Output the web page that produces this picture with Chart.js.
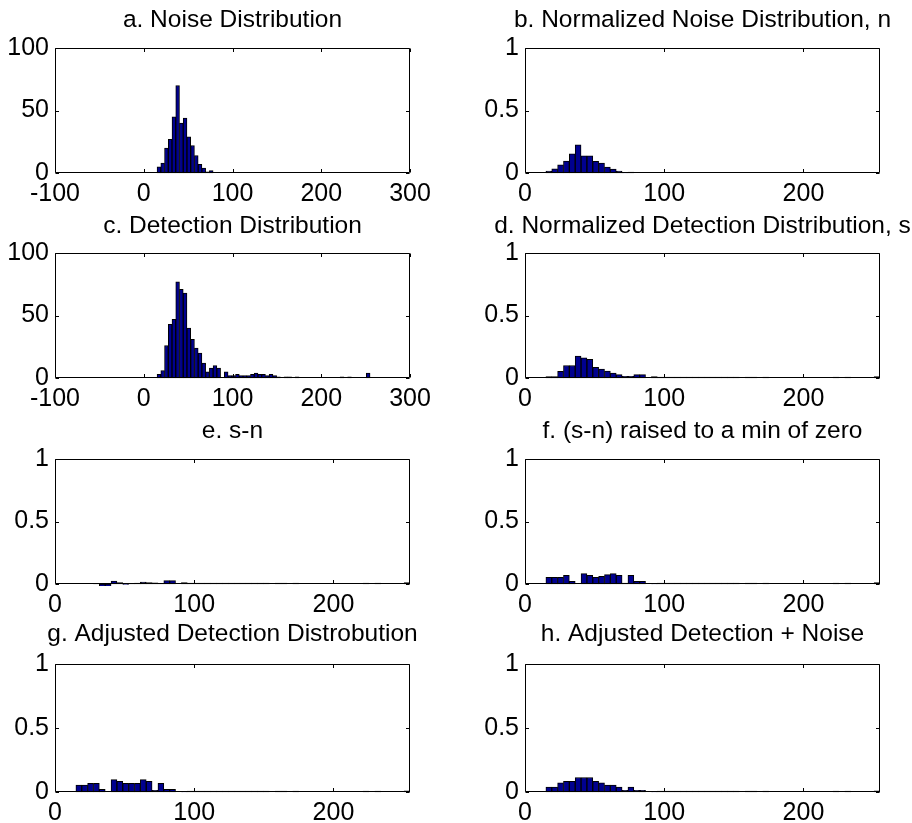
<!DOCTYPE html>
<html>
<head>
<meta charset="utf-8">
<title>Noise and detection distributions</title>
<script src="https://cdn.jsdelivr.net/npm/chart.js@4.4.1/dist/chart.umd.min.js"></script>
<style>
  html, body { margin: 0; padding: 0; background: #fff; width: 912px; height: 823px; overflow: hidden; }
  canvas.panel { position: absolute; }
</style>
</head>
<body>
<script>
// Histogram bin centres (grey level), 57 bins of equal width from 15 to 255
const binCenters = [
  17.11, 21.32, 25.53, 29.74, 33.95, 38.16, 42.37, 46.58, 50.79, 55.00,
  59.21, 63.42, 67.63, 71.84, 76.05, 80.26, 84.47, 88.68, 92.89, 97.11,
  101.32, 105.53, 109.74, 113.95, 118.16, 122.37, 126.58, 130.79, 135.00, 139.21,
  143.42, 147.63, 151.84, 156.05, 160.26, 164.47, 168.68, 172.89, 177.11, 181.32,
  185.53, 189.74, 193.95, 198.16, 202.37, 206.58, 210.79, 215.00, 219.21, 223.42,
  227.63, 231.84, 236.05, 240.26, 244.47, 248.68, 252.89
];

// a. raw noise histogram (counts)
const noiseCounts = [
  5, 8, 20, 27, 45, 70, 40, 44, 29, 22,
  14, 7, 4, 1, 2, 0, 0, 0, 0, 0,
  0, 0, 0, 0, 0, 0, 0, 0, 0, 0,
  0, 0, 0, 0, 0, 0, 0, 0, 0, 0,
  0, 0, 0, 0, 0, 0, 0, 0, 0, 0,
  0, 0, 0, 0, 0, 0, 0
];

// b. normalized noise distribution, n
const noiseNorm = [
  0.016, 0.034, 0.066, 0.095, 0.154, 0.225, 0.138, 0.138, 0.093, 0.080,
  0.048, 0.032, 0.016, 0.003, 0.007, 0, 0, 0, 0, 0,
  0, 0, 0, 0, 0, 0, 0, 0, 0, 0,
  0, 0, 0, 0, 0, 0, 0, 0, 0, 0,
  0, 0, 0, 0, 0, 0, 0, 0, 0, 0,
  0, 0, 0, 0, 0, 0, 0
];

// c. raw detection histogram (counts)
const detectCounts = [
  3, 6, 26, 43, 47, 77, 71, 68, 40, 31,
  24, 20, 12, 5, 8, 10, 8, 0, 5, 2,
  2, 3, 2, 2, 2, 3, 4, 3, 3, 2,
  3, 2, 1, 0, 1, 1, 0, 1, 0, 0,
  0, 0, 0, 0, 0, 0, 0, 0, 0, 1,
  0, 1, 0, 0, 0, 0, 4
];

// d. normalized detection distribution, s
const detectNorm = [
  0.011, 0.011, 0.053, 0.100, 0.100, 0.175, 0.162, 0.149, 0.085, 0.072,
  0.056, 0.040, 0.027, 0.013, 0.013, 0.027, 0.027, 0, 0.011, 0.008,
  0.008, 0.008, 0.008, 0.008, 0.008, 0.008, 0.008, 0.008, 0.008, 0.008,
  0.008, 0.008, 0.008, 0, 0.008, 0.008, 0, 0.008, 0, 0,
  0, 0, 0, 0, 0, 0, 0, 0, 0, 0.008,
  0, 0.008, 0, 0, 0, 0, 0.011
];

// e. s - n (negative bins fall below the axis floor)
const sMinusN = [
  0, 0, 0, 0.005, -0.054, -0.050, 0.024, 0.011, -0.004, 0.004,
  0.008, 0.016, 0.011, 0.010, 0.006, 0.027, 0.027, 0, 0.011, 0.008,
  0.008, 0.008, 0.008, 0.008, 0.008, 0.008, 0.008, 0.008, 0.008, 0.008,
  0.008, 0.008, 0.008, 0, 0.008, 0.008, 0, 0.008, 0, 0,
  0, 0, 0, 0, 0, 0, 0, 0, 0, 0.008,
  0, 0.008, 0, 0, 0, 0, 0.011
];

// f. (s - n) raised to a minimum of zero
const sMinusNRaised = [
  0.053, 0.053, 0.053, 0.069, 0.021, 0, 0.083, 0.069, 0.053, 0.061,
  0.075, 0.083, 0.069, 0.008, 0.069, 0.021, 0.021, 0, 0.003, 0.008,
  0.008, 0.008, 0.008, 0.008, 0.008, 0.008, 0.008, 0.008, 0.008, 0.008,
  0.008, 0.008, 0.008, 0, 0.008, 0.008, 0, 0.008, 0, 0,
  0, 0, 0, 0, 0, 0, 0, 0, 0, 0.008,
  0, 0.008, 0, 0, 0, 0, 0.011
];

// g. adjusted detection distribution
const adjustedDetect = [
  0.055, 0.055, 0.068, 0.068, 0.021, 0, 0.097, 0.084, 0.068, 0.068,
  0.068, 0.097, 0.084, 0.013, 0.068, 0.021, 0.021, 0, 0.003, 0.008,
  0.008, 0.008, 0.008, 0.008, 0.008, 0.008, 0.008, 0.008, 0.008, 0.008,
  0.008, 0.008, 0.008, 0, 0.008, 0.008, 0, 0.008, 0, 0,
  0, 0, 0, 0, 0, 0, 0, 0, 0, 0.008,
  0, 0.008, 0, 0, 0, 0, 0.010
];

// h. adjusted detection + noise
const adjustedPlusNoise = [
  0.039, 0.039, 0.071, 0.084, 0.084, 0.113, 0.113, 0.113, 0.084, 0.071,
  0.055, 0.055, 0.039, 0.013, 0.039, 0.013, 0.013, 0, 0.003, 0.008,
  0.008, 0.008, 0.008, 0.008, 0.008, 0.008, 0.008, 0.008, 0.008, 0.008,
  0.008, 0.008, 0.008, 0, 0.008, 0.008, 0, 0.008, 0, 0,
  0, 0, 0, 0, 0, 0, 0, 0, 0, 0.008,
  0, 0.008, 0, 0, 0, 0, 0.010
];

// Tick labels
const xTicksWide = [-100, 0, 100, 200, 300];
const xTicksGray = [0, 100, 200];
const yTicksCount = [0, 50, 100];
const yTicksUnit = [0, 0.5, 1];

// Panel titles
const titles = [
  'a. Noise Distribution',
  'b. Normalized Noise Distribution, n',
  'c. Detection Distribution',
  'd. Normalized Detection Distribution, s',
  'e. s-n',
  'f. (s-n) raised to a min of zero',
  'g. Adjusted Detection Distrobution',
  'h. Adjusted Detection + Noise'
];

const panels = [
  { values: noiseCounts,       xTicks: xTicksWide, xRange: [-100, 300], yTicks: yTicksCount, yMax: 100 },
  { values: noiseNorm,         xTicks: xTicksGray, xRange: [0, 255],    yTicks: yTicksUnit,  yMax: 1 },
  { values: detectCounts,      xTicks: xTicksWide, xRange: [-100, 300], yTicks: yTicksCount, yMax: 100 },
  { values: detectNorm,        xTicks: xTicksGray, xRange: [0, 255],    yTicks: yTicksUnit,  yMax: 1 },
  { values: sMinusN,           xTicks: xTicksGray, xRange: [0, 255],    yTicks: yTicksUnit,  yMax: 1 },
  { values: sMinusNRaised,     xTicks: xTicksGray, xRange: [0, 255],    yTicks: yTicksUnit,  yMax: 1 },
  { values: adjustedDetect,    xTicks: xTicksGray, xRange: [0, 255],    yTicks: yTicksUnit,  yMax: 1 },
  { values: adjustedPlusNoise, xTicks: xTicksGray, xRange: [0, 255],    yTicks: yTicksUnit,  yMax: 1 }
];

// Subplot grid: plot-box edges per column and row, and distance from
// title centre to the top of the box
const columns = [ { left: 55, right: 410 }, { left: 525, right: 880 } ];
const rows = [
  { top: 48,  bottom: 173, titleGap: 28 },
  { top: 253, bottom: 378, titleGap: 27 },
  { top: 459, bottom: 584, titleGap: 28 },
  { top: 664, bottom: 792, titleGap: 30 }
];

const FONT = "'Liberation Sans', Arial, Helvetica, sans-serif";
const TICK_SIZE = 25;
const TITLE_SIZE = 24.5;
const SIDE_W = 55;      // room for y tick labels, mirrored on the right
const TITLE_H = 48;     // room above the plot box
const XAXIS_H = 40;     // room below the plot box
const BAR_FILL = 'rgb(0,0,143)';

Chart.defaults.font.family = FONT;
Chart.defaults.font.size = TICK_SIZE;
Chart.defaults.color = '#000';

// Closed axes box with short inward ticks on all four sides
const axesBox = {
  id: 'axesBox',
  afterDatasetsDraw(chart) {
    const { ctx, chartArea: a, scales } = chart;
    const tl = 3.5;
    const L = Math.round(a.left) + 0.5, R = Math.round(a.right) - 0.5;
    const T = Math.round(a.top) + 0.5, B = Math.round(a.bottom) - 0.5;
    ctx.save();
    ctx.strokeStyle = '#000';
    ctx.lineWidth = 1;
    ctx.beginPath();
    ctx.rect(L, T, R - L, B - T);
    scales.x.ticks.forEach(t => {
      const px = Math.round(scales.x.getPixelForValue(t.value)) + 0.5;
      ctx.moveTo(px, B); ctx.lineTo(px, B - tl);
      ctx.moveTo(px, T); ctx.lineTo(px, T + tl);
    });
    scales.y.ticks.forEach(t => {
      const py = Math.round(scales.y.getPixelForValue(t.value)) + 0.5;
      ctx.moveTo(L, py); ctx.lineTo(L + tl, py);
      ctx.moveTo(R, py); ctx.lineTo(R - tl, py);
    });
    ctx.stroke();
    ctx.restore();
  }
};

panels.forEach((p, i) => {
  const col = columns[i % 2];
  const row = rows[Math.floor(i / 2)];
  const canvas = document.createElement('canvas');
  canvas.className = 'panel';
  const w = SIDE_W + (col.right - col.left) + SIDE_W;
  const h = TITLE_H + (row.bottom - row.top) + XAXIS_H;
  canvas.width = w;
  canvas.height = h;
  canvas.style.left = (col.left - SIDE_W) + 'px';
  canvas.style.top = (row.top - TITLE_H) + 'px';
  canvas.style.width = w + 'px';
  canvas.style.height = h + 'px';
  document.body.appendChild(canvas);

  const lineH = TITLE_SIZE * 1.2;
  const padTop = TITLE_H - row.titleGap - lineH / 2;
  const padBottom = TITLE_H - lineH - padTop;

  new Chart(canvas, {
    type: 'bar',
    data: {
      datasets: [{
        data: binCenters.map((c, k) => ({ x: c, y: p.values[k] })),
        backgroundColor: BAR_FILL,
        borderColor: '#000',
        borderWidth: 1,
        borderSkipped: false,
        barPercentage: 1,
        categoryPercentage: 1,
        clip: { left: 0, right: 0, top: 0, bottom: 2 }
      }]
    },
    options: {
      responsive: false,
      animation: false,
      events: [],
      layout: { padding: 0 },
      plugins: {
        legend: { display: false },
        tooltip: { enabled: false },
        title: {
          display: true,
          text: titles[i],
          color: '#000',
          font: { family: FONT, size: TITLE_SIZE, weight: 'normal' },
          padding: { top: padTop, bottom: padBottom }
        }
      },
      scales: {
        x: {
          type: 'linear',
          min: p.xRange[0],
          max: p.xRange[1],
          offset: false,
          grid: { display: false, drawTicks: false },
          border: { display: false },
          ticks: { padding: 6, autoSkip: false, maxRotation: 0, callback: v => String(v) },
          afterBuildTicks: s => { s.ticks = p.xTicks.map(v => ({ value: v })); },
          afterFit: s => { s.height = XAXIS_H; }
        },
        y: {
          type: 'linear',
          position: 'left',
          min: 0,
          max: p.yMax,
          grid: { display: false, drawTicks: false },
          border: { display: false },
          ticks: { padding: 6, autoSkip: false, callback: v => String(v) },
          afterBuildTicks: s => { s.ticks = p.yTicks.map(v => ({ value: v })); },
          afterFit: s => { s.width = SIDE_W; }
        },
        // empty right-hand margin so the title centres over the box
        yRight: {
          type: 'linear',
          position: 'right',
          display: true,
          grid: { display: false, drawTicks: false },
          border: { display: false },
          ticks: { display: false },
          afterFit: s => { s.width = SIDE_W; }
        }
      }
    },
    plugins: [axesBox]
  });
});
</script>
</body>
</html>
